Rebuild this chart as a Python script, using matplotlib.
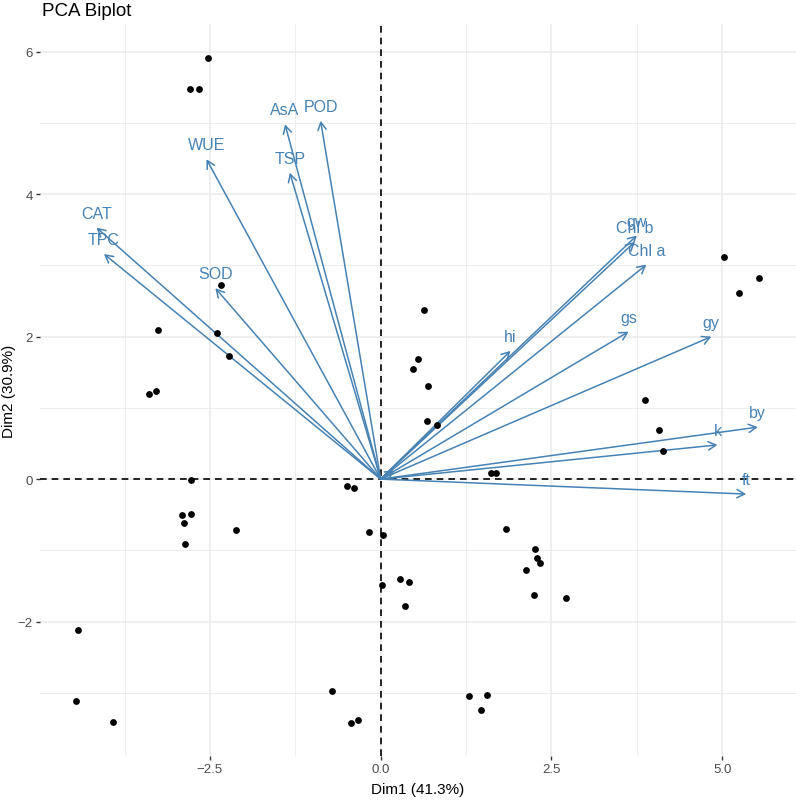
"""PCA biplot: individuals as points, variables as arrows from the origin."""

import matplotlib
matplotlib.use("Agg")
import matplotlib.pyplot as plt
from matplotlib.ticker import FixedLocator

plt.rcParams["font.family"] = ["Liberation Sans", "DejaVu Sans"]

# individuals (Dim1, Dim2)
ind_dim1 = [-2.53, -2.79, -2.66, -2.34, -2.39, -2.22, -3.26, -3.29, -3.39,
            -2.77, -2.91, -2.78, -2.88, -2.86, -2.12, -4.43, -4.46, -3.92,
            -0.71, -0.44, -0.33, -0.50, -0.39, -0.17, 0.03, 0.02, 0.29,
            0.41, 0.36, 1.83, 2.26, 2.29, 2.33, 2.13, 2.25, 2.71,
            1.30, 1.55, 1.47, 0.64, 0.54, 0.48, 0.70, 0.68, 0.83,
            1.62, 1.69, 3.87, 4.07, 4.14, 5.03, 5.24, 5.54]
ind_dim2 = [5.91, 5.48, 5.48, 2.72, 2.05, 1.73, 2.09, 1.24, 1.19,
            -0.01, -0.50, -0.49, -0.62, -0.91, -0.71, -2.12, -3.12, -3.41,
            -2.98, -3.42, -3.38, -0.10, -0.12, -0.74, -0.78, -1.49, -1.40,
            -1.45, -1.78, -0.70, -0.98, -1.11, -1.18, -1.28, -1.62, -1.67,
            -3.05, -3.03, -3.24, 2.37, 1.69, 1.54, 1.30, 0.82, 0.76,
            0.09, 0.08, 1.11, 0.69, 0.39, 3.12, 2.61, 2.82]

# variables (scaled loadings)
var_names = ["CAT", "TPC", "WUE", "AsA", "POD", "TSP", "SOD", "gw", "Chl b",
             "Chl a", "gs", "gy", "hi", "by", "k", "ft", ""]
var_dim1 = [-4.16, -4.05, -2.55, -1.40, -0.88, -1.33, -2.42, 3.75, 3.72,
            3.89, 3.63, 4.84, 1.90, 5.52, 4.93, 5.35, 0.20]
var_dim2 = [3.53, 3.16, 4.49, 4.98, 5.03, 4.30, 2.68, 3.42, 3.33,
            3.01, 2.07, 2.00, 1.80, 0.73, 0.48, -0.21, 0.12]

x_ticks = [-2.5, 0.0, 2.5, 5.0]
x_minor = [-3.75, -1.25, 1.25, 3.75]
y_ticks = [-2, 0, 2, 4, 6]
y_minor = [-3, -1, 1, 3, 5]

arrow_col = "#4682B4"
grid_col = "#EBEBEB"
tick_col = "#4D4D4D"

fig = plt.figure(figsize=(7.96, 8.03), dpi=100)
ax = fig.add_axes([0.050, 0.057, 0.950, 0.912])

ax.set_xlim(-4.99, 6.08)
ax.set_ylim(-3.89, 6.39)

ax.xaxis.set_major_locator(FixedLocator(x_ticks))
ax.xaxis.set_minor_locator(FixedLocator(x_minor))
ax.yaxis.set_major_locator(FixedLocator(y_ticks))
ax.yaxis.set_minor_locator(FixedLocator(y_minor))
ax.set_xticklabels([f"{v:.1f}".replace("-", "\u2212") for v in x_ticks])
ax.set_yticklabels([f"{v}".replace("-", "\u2212") for v in y_ticks])

ax.set_axisbelow(True)
ax.grid(True, which="major", color=grid_col, linewidth=1.1, zorder=0)
ax.grid(True, which="minor", color=grid_col, linewidth=0.6, zorder=0)
for s in ax.spines.values():
    s.set_visible(False)
ax.tick_params(which="major", length=3, width=1.0, color="#333333",
               labelcolor=tick_col, labelsize=9.5, pad=2)
ax.tick_params(which="minor", length=0)

ax.axhline(0, color="black", linestyle=(0, (4, 3)), linewidth=1.2, zorder=2.5)
ax.axvline(0, color="black", linestyle=(0, (4, 3)), linewidth=1.2, zorder=2.5)

ax.scatter(ind_dim1, ind_dim2, s=24, color="black", zorder=3, linewidths=0)

for name, vx, vy in zip(var_names, var_dim1, var_dim2):
    ax.annotate("", xy=(vx, vy), xytext=(0, 0),
                arrowprops=dict(arrowstyle="->,head_length=0.55,head_width=0.3",
                                color=arrow_col, lw=1.1,
                                shrinkA=0, shrinkB=0),
                zorder=2.6)
    if name:
        ax.annotate(name, xy=(vx, vy), xytext=(0, 5), textcoords="offset points",
                    ha="center", va="bottom", color=arrow_col, fontsize=11.5,
                    zorder=4)

ax.set_xlabel("Dim1 (41.3%)", fontsize=11, color="black", labelpad=5)
ax.set_ylabel("Dim2 (30.9%)", fontsize=11, color="black", labelpad=1)
fig.text(0.053, 0.975, "PCA Biplot", fontsize=13.5, ha="left", va="bottom")

fig.savefig("out.png", dpi=100)
